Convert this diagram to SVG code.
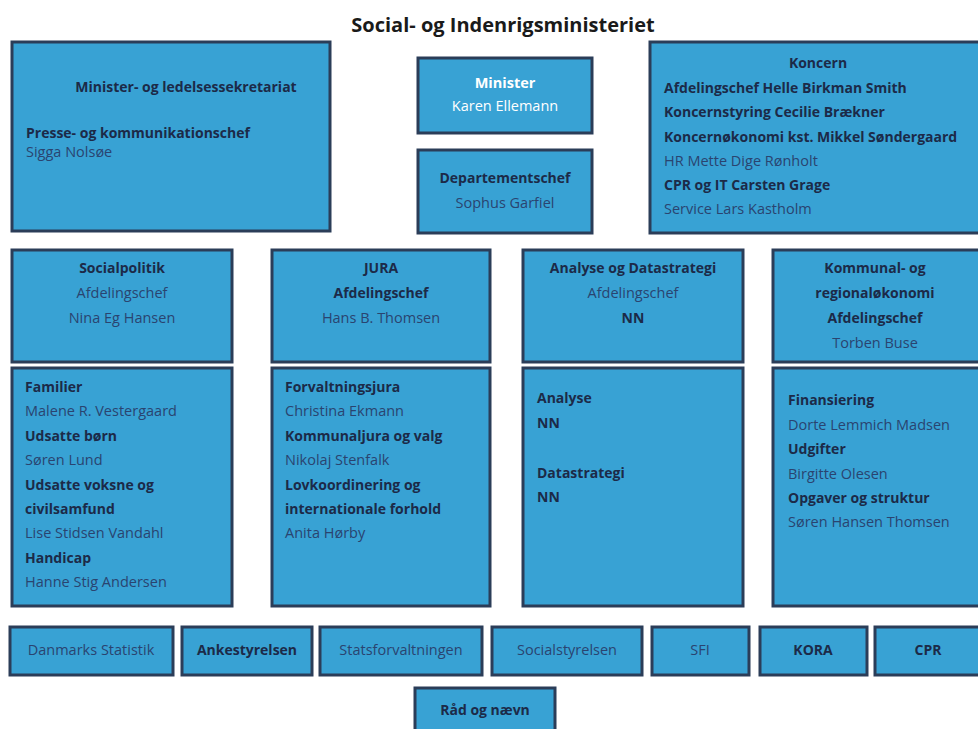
<svg xmlns="http://www.w3.org/2000/svg" width="978" height="729" viewBox="0 0 978 729">
<style>
text{font-family:"Open Sans","Liberation Sans",sans-serif;font-size:14.5px}
.box{fill:#38a2d4;stroke:#2b3d58;stroke-width:3}
.h{font-weight:700;fill:#1c2a48;font-size:14px}
.n{font-weight:400;fill:#2a4470}
.w{fill:#ffffff}
.c{text-anchor:middle}
.t{font-size:20px;font-weight:700;fill:#1a1a1a;text-anchor:middle}
</style>
<rect x="0" y="0" width="978" height="729" fill="#ffffff"/>
<text class="t" x="503" y="32">Social- og Indenrigsministeriet</text>

<g id="sekretariat">
<rect class="box" x="12" y="42" width="318" height="189"/>
<text class="h c" x="186" y="92">Minister- og ledelsessekretariat</text>
<text class="h" x="26" y="138">Presse- og kommunikationschef</text>
<text class="n" x="26" y="157">Sigga Nolsøe</text>
</g>

<g id="minister">
<rect class="box" x="418" y="58" width="174" height="75"/>
<text class="w c" x="505" y="88" font-weight="700">Minister</text>
<text class="w c" x="505" y="111">Karen Ellemann</text>
</g>

<g id="departementschef">
<rect class="box" x="418" y="150" width="174" height="83"/>
<text class="h c" x="505" y="183">Departementschef</text>
<text class="n c" x="505" y="208">Sophus Garfiel</text>
</g>

<g id="koncern">
<rect class="box" x="650" y="42" width="332" height="191"/>
<text class="h c" x="818" y="68">Koncern</text>
<text class="h" x="664" y="93">Afdelingschef Helle Birkman Smith</text>
<text class="h" x="664" y="117">Koncernstyring Cecilie Brækner</text>
<text class="h" x="664" y="142">Koncernøkonomi kst. Mikkel Søndergaard</text>
<text class="n" x="664" y="166">HR Mette Dige Rønholt</text>
<text class="h" x="664" y="190">CPR og IT Carsten Grage</text>
<text class="n" x="664" y="214">Service Lars Kastholm</text>
</g>

<g id="socialpolitik">
<rect class="box" x="12" y="250" width="220" height="112"/>
<text class="h c" x="122" y="273">Socialpolitik</text>
<text class="n c" x="122" y="298">Afdelingschef</text>
<text class="n c" x="122" y="323">Nina Eg Hansen</text>
</g>

<g id="jura">
<rect class="box" x="272" y="250" width="218" height="112"/>
<text class="h c" x="381" y="273">JURA</text>
<text class="h c" x="381" y="298">Afdelingschef</text>
<text class="n c" x="381" y="323">Hans B. Thomsen</text>
</g>

<g id="analyse">
<rect class="box" x="523" y="250" width="220" height="112"/>
<text class="h c" x="633" y="273">Analyse og Datastrategi</text>
<text class="n c" x="633" y="298">Afdelingschef</text>
<text class="h c" x="633" y="323">NN</text>
</g>

<g id="kommunal">
<rect class="box" x="773" y="250" width="212" height="112"/>
<text class="h c" x="875" y="273">Kommunal- og</text>
<text class="h c" x="875" y="298">regionaløkonomi</text>
<text class="h c" x="875" y="323">Afdelingschef</text>
<text class="n c" x="875" y="348">Torben Buse</text>
</g>

<g id="social-kontorer">
<rect class="box" x="12" y="368" width="220" height="238"/>
<text class="h" x="25" y="392">Familier</text>
<text class="n" x="25" y="416">Malene R. Vestergaard</text>
<text class="h" x="25" y="441">Udsatte børn</text>
<text class="n" x="25" y="465">Søren Lund</text>
<text class="h" x="25" y="490">Udsatte voksne og</text>
<text class="h" x="25" y="514">civilsamfund</text>
<text class="n" x="25" y="538">Lise Stidsen Vandahl</text>
<text class="h" x="25" y="563">Handicap</text>
<text class="n" x="25" y="587">Hanne Stig Andersen</text>
</g>

<g id="jura-kontorer">
<rect class="box" x="272" y="368" width="218" height="238"/>
<text class="h" x="285" y="392">Forvaltningsjura</text>
<text class="n" x="285" y="416">Christina Ekmann</text>
<text class="h" x="285" y="441">Kommunaljura og valg</text>
<text class="n" x="285" y="465">Nikolaj Stenfalk</text>
<text class="h" x="285" y="490">Lovkoordinering og</text>
<text class="h" x="285" y="514">internationale forhold</text>
<text class="n" x="285" y="538">Anita Hørby</text>
</g>

<g id="analyse-kontorer">
<rect class="box" x="523" y="368" width="220" height="238"/>
<text class="h" x="537" y="403">Analyse</text>
<text class="h" x="537" y="428">NN</text>
<text class="h" x="537" y="478">Datastrategi</text>
<text class="h" x="537" y="502">NN</text>
</g>

<g id="kommunal-kontorer">
<rect class="box" x="773" y="368" width="212" height="238"/>
<text class="h" x="788" y="405">Finansiering</text>
<text class="n" x="788" y="430">Dorte Lemmich Madsen</text>
<text class="h" x="788" y="454">Udgifter</text>
<text class="n" x="788" y="479">Birgitte Olesen</text>
<text class="h" x="788" y="503">Opgaver og struktur</text>
<text class="n" x="788" y="527">Søren Hansen Thomsen</text>
</g>

<g id="danmarks-statistik">
<rect class="box" x="10" y="627" width="163" height="48"/>
<text class="n c" x="91" y="655">Danmarks Statistik</text>
</g>
<g id="ankestyrelsen">
<rect class="box" x="182" y="627" width="130" height="48"/>
<text class="h c" x="247" y="655">Ankestyrelsen</text>
</g>
<g id="statsforvaltningen">
<rect class="box" x="320" y="627" width="162" height="48"/>
<text class="n c" x="401" y="655">Statsforvaltningen</text>
</g>
<g id="socialstyrelsen">
<rect class="box" x="492" y="627" width="150" height="48"/>
<text class="n c" x="567" y="655">Socialstyrelsen</text>
</g>
<g id="sfi">
<rect class="box" x="652" y="627" width="97" height="48"/>
<text class="n c" x="700" y="655">SFI</text>
</g>
<g id="kora">
<rect class="box" x="760" y="627" width="107" height="48"/>
<text class="h c" x="813" y="655">KORA</text>
</g>
<g id="cpr">
<rect class="box" x="875" y="627" width="110" height="48"/>
<text class="h c" x="928" y="655">CPR</text>
</g>
<g id="raad-og-naevn">
<rect class="box" x="415" y="688" width="140" height="50"/>
<text class="h c" x="485" y="715">Råd og nævn</text>
</g>
</svg>
